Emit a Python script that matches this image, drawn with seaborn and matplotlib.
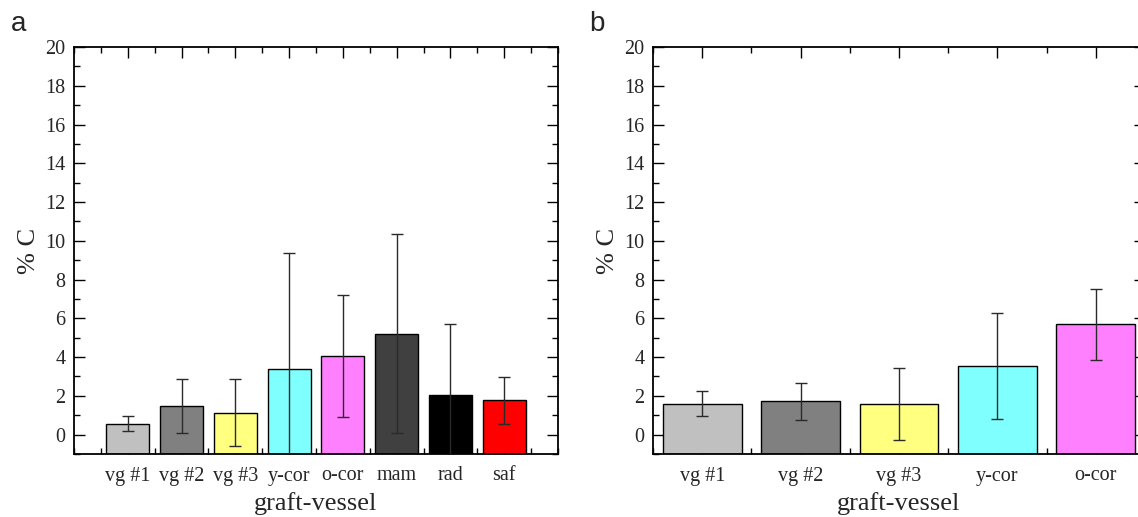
import matplotlib
matplotlib.use("Agg")
import matplotlib.pyplot as plt
from matplotlib.ticker import MultipleLocator
import seaborn as sns
import pandas as pd

# Panel a data
cats_a = ["vg #1", "vg #2", "vg #3", "y-cor", "o-cor", "mam", "rad", "saf"]
vals_a = [0.57, 1.46, 1.12, 3.39, 4.06, 5.21, 2.05, 1.77]
errs_a = [0.40, 1.39, 1.73, 6.00, 3.15, 5.12, 3.67, 1.20]
cols_a = ["#C0C0C0", "#808080", "#FFFF80", "#80FFFF", "#FF80FF", "#404040", "#000000", "#FF0000"]

# Panel b data
cats_b = ["vg #1", "vg #2", "vg #3", "y-cor", "o-cor"]
vals_b = [1.60, 1.71, 1.58, 3.52, 5.69]
errs_b = [0.64, 0.96, 1.86, 2.73, 1.83]
cols_b = ["#C0C0C0", "#808080", "#FFFF80", "#80FFFF", "#FF80FF"]

Y_MIN, Y_MAX = -1, 20

sns.set_style("ticks")
serif = ["Liberation Serif", "DejaVu Serif"]
plt.rcParams["font.family"] = serif

fig = plt.figure(figsize=(11.38, 5.17), dpi=100)
W, H = 1138, 517
ax_a = fig.add_axes([74 / W, 1 - 454 / H, (558 - 74) / W, (454 - 47) / H])
ax_b = fig.add_axes([653 / W, 1 - 454 / H, (1145 - 653) / W, (454 - 47) / H])


def panel(ax, cats, vals, errs, cols, xlim):
    df = pd.DataFrame({"cat": cats, "val": vals})
    sns.barplot(data=df, x="cat", y="val", hue="cat", palette=cols, legend=False,
                order=cats, hue_order=cats, ax=ax, width=0.8,
                edgecolor="black", linewidth=1.0, saturation=1)
    # bars rise from the bottom of the axis (Origin style)
    for p in ax.patches:
        top = p.get_y() + p.get_height()
        p.set_y(Y_MIN)
        p.set_height(top - Y_MIN)
    ax.errorbar(range(len(cats)), vals, yerr=errs, fmt="none",
                ecolor="#2a2a2a", elinewidth=1.0, capsize=4.5, capthick=1.0, zorder=5)
    ax.set_xlim(*xlim)
    ax.set_ylim(Y_MIN, Y_MAX)
    ax.yaxis.set_major_locator(MultipleLocator(2))
    ax.yaxis.set_minor_locator(MultipleLocator(1))
    ax.xaxis.set_minor_locator(MultipleLocator(0.5))
    ax.tick_params(which="both", direction="in", top=True, right=True, width=1.0, color="black")
    ax.tick_params(which="major", length=8, labelsize=14.5)
    ax.tick_params(axis="x", which="major", pad=9)
    ax.tick_params(axis="y", which="major", pad=6)
    ax.tick_params(which="minor", length=4)
    for s in ax.spines.values():
        s.set_linewidth(1.3)
        s.set_color("black")
    ax.set_xlabel("graft-vessel", fontsize=19, labelpad=5)
    ax.set_ylabel("% C", fontsize=19, labelpad=4)


panel(ax_a, cats_a, vals_a, errs_a, cols_a, (-1, 8))
panel(ax_b, cats_b, vals_b, errs_b, cols_b, (-0.5, 4.5))

fig.text(11 / W, 1 - 24 / H, "a", fontsize=20, family=["Liberation Sans", "DejaVu Sans"], va="center")
fig.text(589 / W, 1 - 24 / H, "b", fontsize=20, family=["Liberation Sans", "DejaVu Sans"], va="center")

fig.savefig("out.png", dpi=100)
